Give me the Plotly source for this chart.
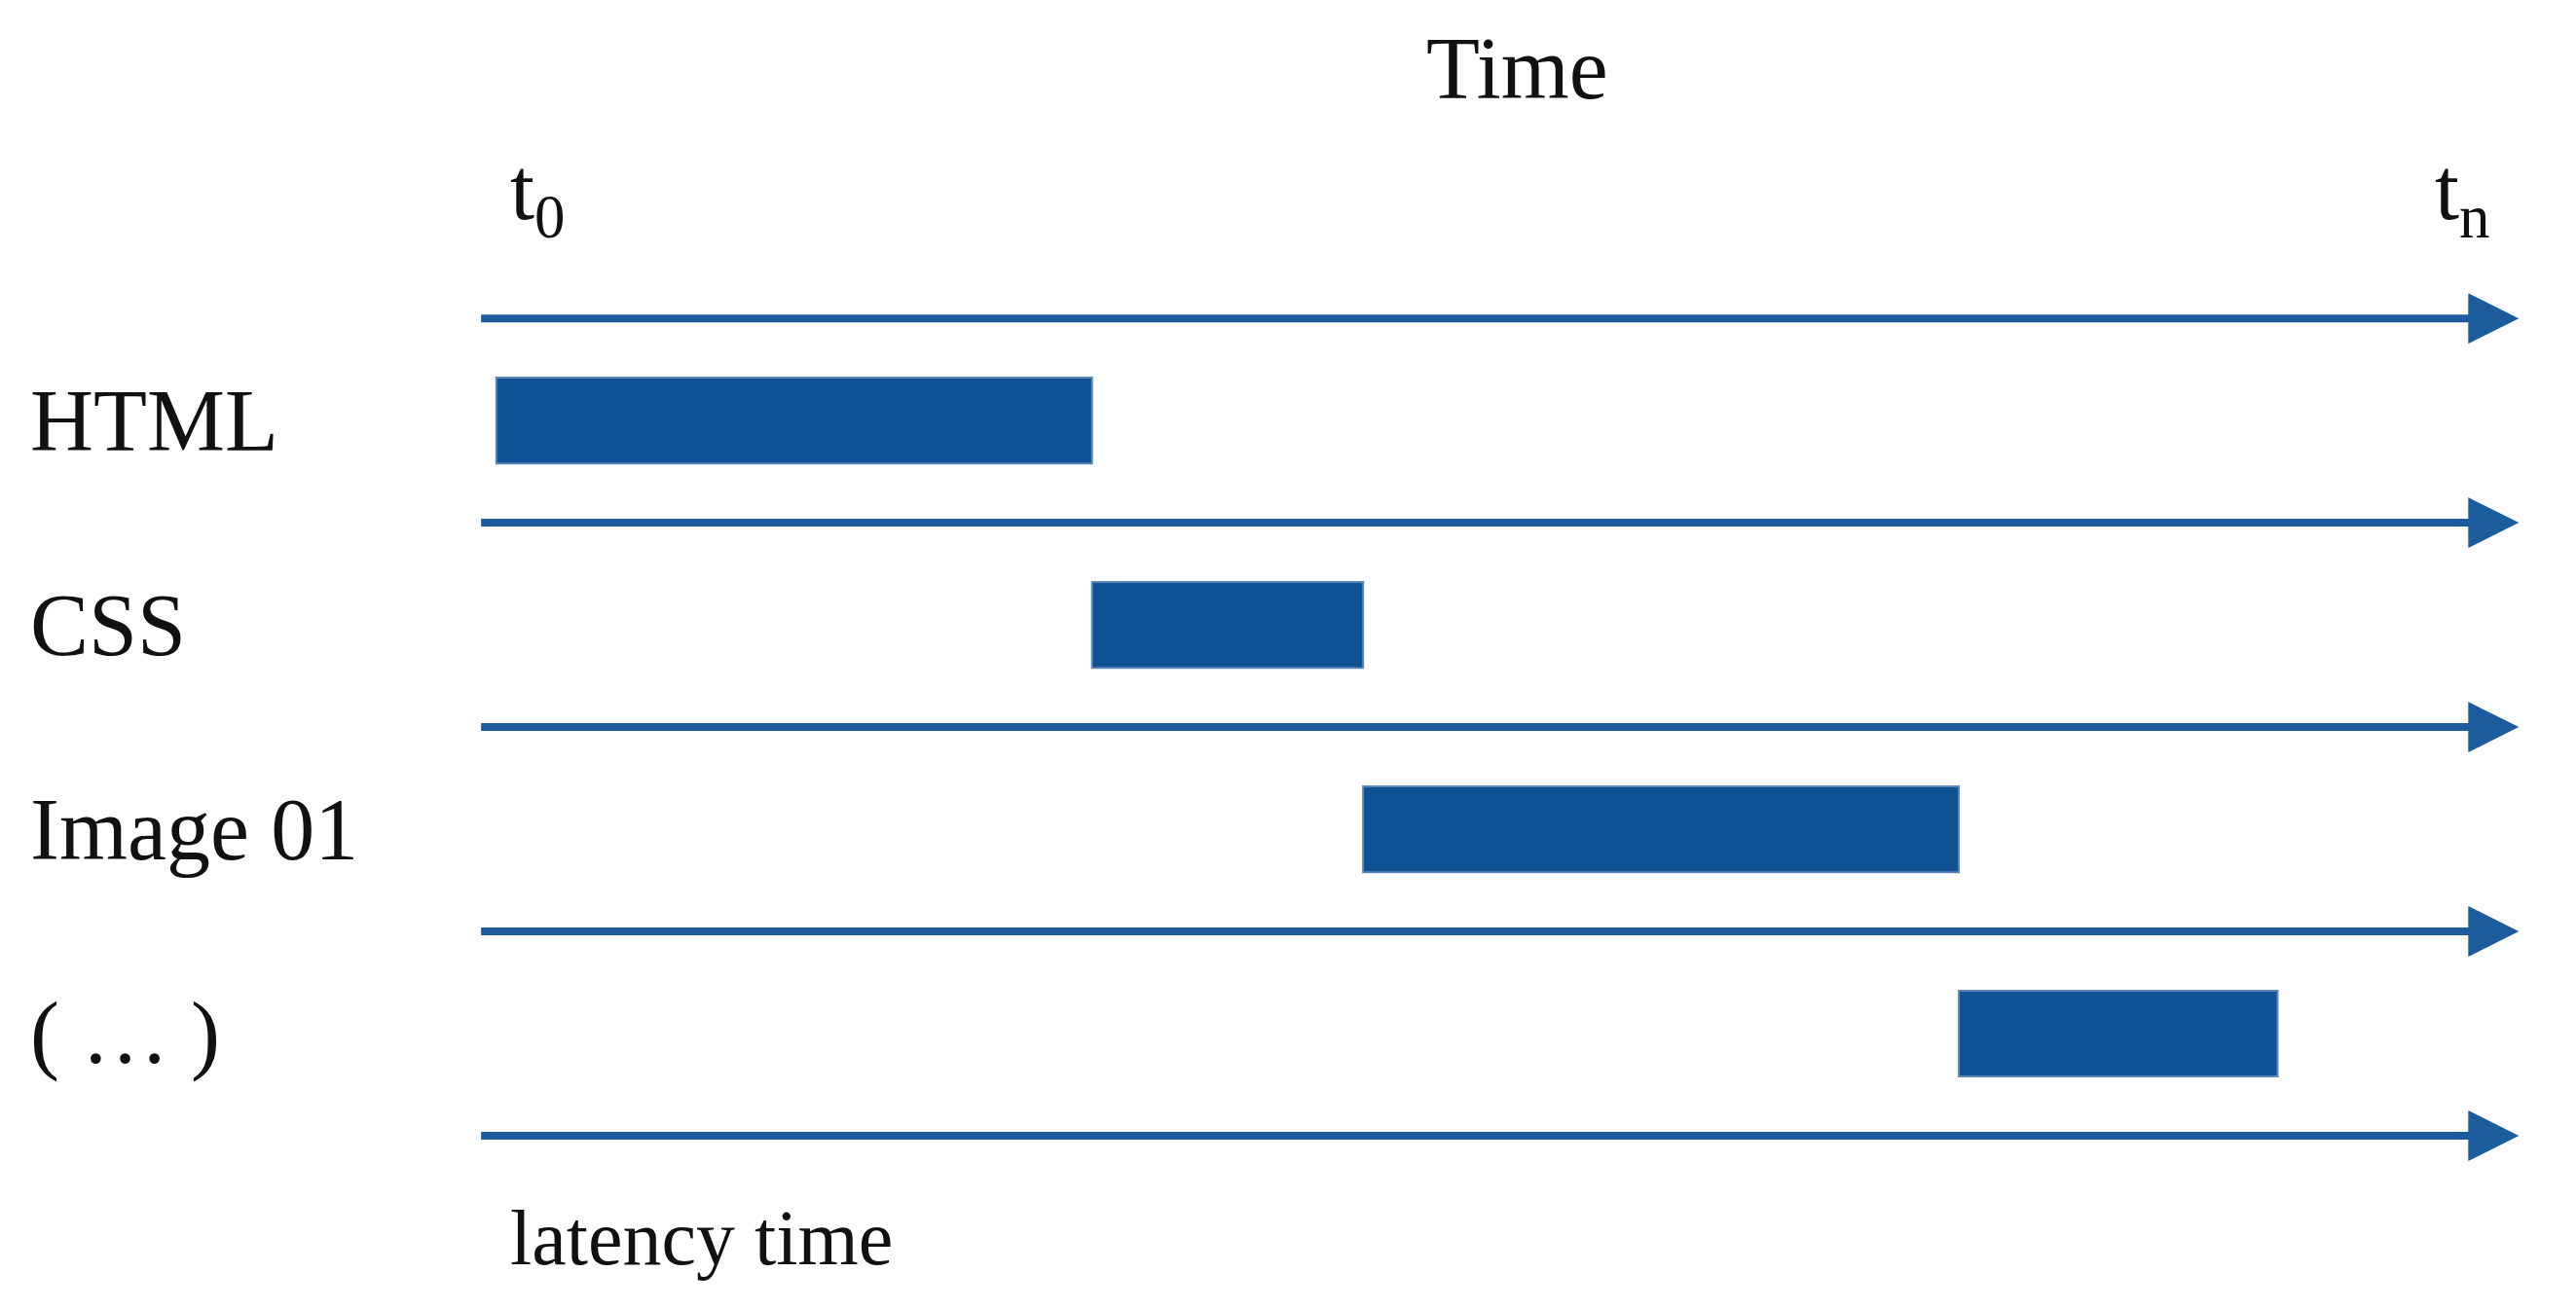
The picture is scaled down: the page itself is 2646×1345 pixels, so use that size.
import plotly.graph_objects as go

categories = ["HTML", "CSS", "Image 01", "( … )"]
starts = [0, 10, 14.55, 24.55]
durations = [10, 4.55, 10, 5.35]
t_end = 33.95

BLUE = "#0e5294"
fig = go.Figure()
fig.add_trace(go.Bar(y=list(range(len(categories))), x=durations, base=starts,
                     orientation="h", width=0.42, marker=dict(color=BLUE, line=dict(color="#5b86b8", width=2)),
                     hoverinfo="skip"))

ann = []
for i in range(len(categories) + 1):
    ann.append(dict(x=t_end, y=i - 0.5, ax=-0.28, ay=i - 0.5, xref="x", yref="y", axref="x", ayref="y",
                    showarrow=True, arrowhead=2, arrowsize=1.3, arrowwidth=8, arrowcolor="#1d5c9c", text=""))
font = dict(family="Liberation Serif, serif", size=90, color="#111")
for i, c in enumerate(categories):
    ann.append(dict(x=0.008, y=i, xref="paper", yref="y", text=c, showarrow=False, xanchor="left", font=font))
ann.append(dict(x=0.586, y=-1.72, xref="paper", yref="y", text="Time", showarrow=False, font=font))
ann.append(dict(x=0.2, y=-1.1, xref="x", yref="y", text="t<sub>0</sub>", showarrow=False, xanchor="left", font=font))
ann.append(dict(x=32.5, y=-1.1, xref="x", yref="y", text="t<sub>n</sub>", showarrow=False, xanchor="left", font=font))
ann.append(dict(x=0.2, y=4.0, xref="x", yref="y", text="latency time", showarrow=False, xanchor="left",
                font=dict(family="Liberation Serif, serif", size=80, color="#111")))

fig.update_layout(width=2646, height=1345, margin=dict(l=0, r=0, t=0, b=0),
                  plot_bgcolor="white", paper_bgcolor="white", showlegend=False, annotations=ann,
                  xaxis=dict(range=[-8.2, 35.04], visible=False),
                  yaxis=dict(range=[4.386, -2.02], visible=False))
fig.write_html("out.html")
